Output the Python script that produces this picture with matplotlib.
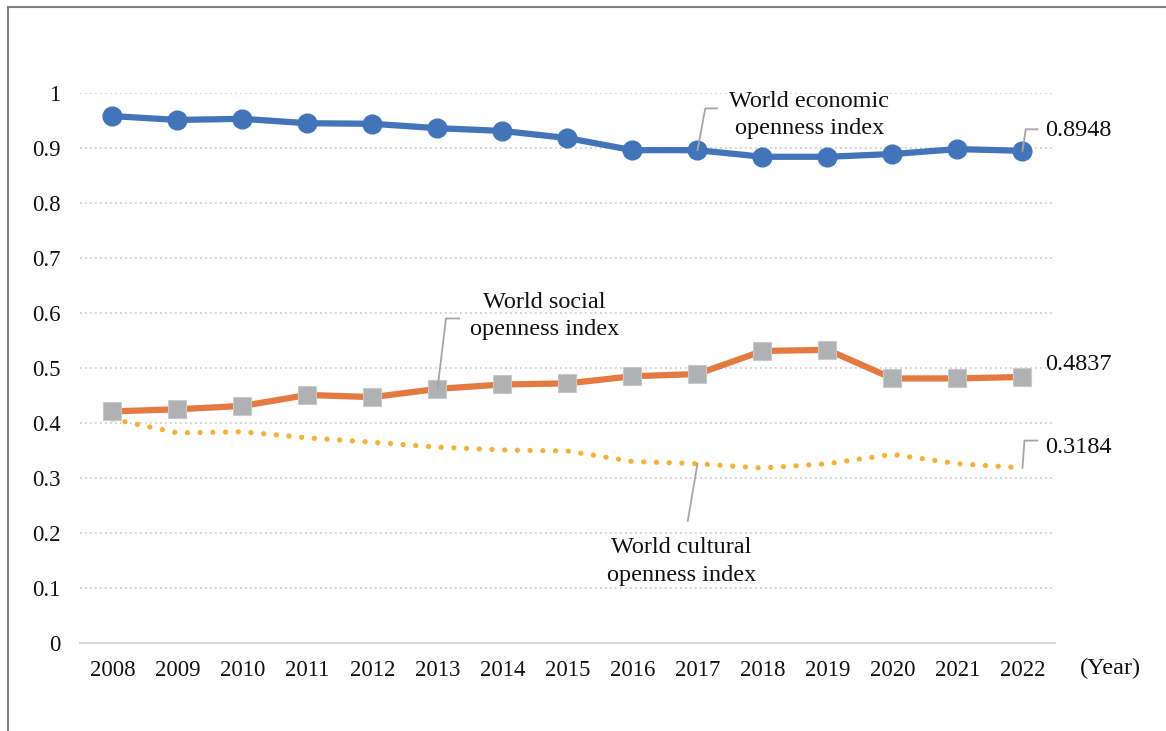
import matplotlib.pyplot as plt
from matplotlib.patches import Rectangle

years = ['2008', '2009', '2010', '2011', '2012', '2013', '2014', '2015',
         '2016', '2017', '2018', '2019', '2020', '2021', '2022']
economic = [0.958, 0.951, 0.953, 0.945, 0.944, 0.936, 0.931, 0.918,
            0.896, 0.896, 0.884, 0.884, 0.889, 0.898, 0.8948]
social = [0.421, 0.425, 0.431, 0.451, 0.447, 0.462, 0.470, 0.472,
          0.485, 0.489, 0.531, 0.533, 0.481, 0.481, 0.4837]
cultural = [0.407, 0.382, 0.384, 0.373, 0.365, 0.356, 0.351, 0.349,
            0.330, 0.326, 0.318, 0.326, 0.343, 0.326, 0.3184]
yticks = [0, 0.1, 0.2, 0.3, 0.4, 0.5, 0.6, 0.7, 0.8, 0.9, 1]

plt.rcParams['font.family'] = ['Liberation Serif', 'DejaVu Serif']

fig = plt.figure(figsize=(11.66, 7.31), dpi=100)
ax = fig.add_axes([0.0686, 0.1204, 0.8362, 0.7524])

# outer border (right/bottom edges fall outside the picture)
fig.patches.append(Rectangle((8 / 1166, -0.05), 1.2, (731 - 7) / 731 + 0.05,
                             transform=fig.transFigure, fill=False,
                             edgecolor='#7f7f7f', linewidth=1.5))

x = list(range(len(years)))
ax.plot(x, cultural, linestyle=(0, (0.01, 2.4)), dash_capstyle='round',
        color='#F8B133', linewidth=3.8, zorder=2)
ax.plot(x, social, '-', color='#E57A40', linewidth=4.5, marker='s',
        markersize=12.5, markerfacecolor='#B0B1B3', markeredgecolor='#C8C9CB',
        markeredgewidth=0.8, zorder=3)
ax.plot(x, economic, '-', color='#4274BA', linewidth=4.5, marker='o',
        markersize=13.5, markerfacecolor='#4274BA', markeredgecolor='#4274BA',
        zorder=4)

ax.set_xlim(-0.5, len(years) - 0.5)
ax.set_ylim(0, 1)
ax.set_xticks(x)
ax.set_xticklabels(years)
ax.set_yticks(yticks)
ax.set_yticklabels(['0', '0.1', '0.2', '0.3', '0.4', '0.5', '0.6', '0.7',
                    '0.8', '0.9', '1'])
ax.tick_params(axis='both', length=0, labelsize=16.5, colors='#111111')
ax.tick_params(axis='x', pad=12)
ax.tick_params(axis='y', pad=14)
for s in ['top', 'right', 'left']:
    ax.spines[s].set_visible(False)
ax.spines['bottom'].set_color('#d9d9d9')
ax.spines['bottom'].set_linewidth(1.5)
ax.yaxis.grid(True, linestyle=(0, (1, 2)), color='#c8c8c8', linewidth=1.2)
ax.set_axisbelow(True)

lead = dict(color='#a6a6a6', linewidth=1.3)
txt = dict(fontsize=17.5, color='#111111')

# economic labels
ax.plot([9, 9.12, 9.3], [economic[9], 0.972, 0.972], zorder=5, **lead)
ax.text(10.72, 0.96, 'World economic\nopenness index', ha='center',
        va='center', linespacing=1.4, **txt)
ax.plot([14, 14.05, 14.23], [economic[14], 0.934, 0.934], zorder=5, **lead)
ax.text(14.35, 0.932, '0.8948', ha='left', va='center', **txt)

# social labels
ax.plot([5, 5.13, 5.33], [social[5], 0.59, 0.59], zorder=5, **lead)
ax.text(6.65, 0.595, 'World social\nopenness index', ha='center',
        va='center', linespacing=1.4, **txt)
ax.text(14.35, 0.507, '0.4837', ha='left', va='center', **txt)

# cultural labels
ax.plot([14, 14.03, 14.23], [cultural[14], 0.368, 0.368], zorder=5, **lead)
ax.text(14.35, 0.356, '0.3184', ha='left', va='center', **txt)
ax.plot([9, 8.85], [cultural[9], 0.222], zorder=5, **lead)
ax.text(8.75, 0.148, 'World cultural\nopenness index', ha='center',
        va='center', linespacing=1.4, **txt)

ax.text(14.88, -0.047, '(Year)', ha='left', va='center', fontsize=17.5,
        color='#111111', clip_on=False)

fig.savefig('out.png', dpi=100)
